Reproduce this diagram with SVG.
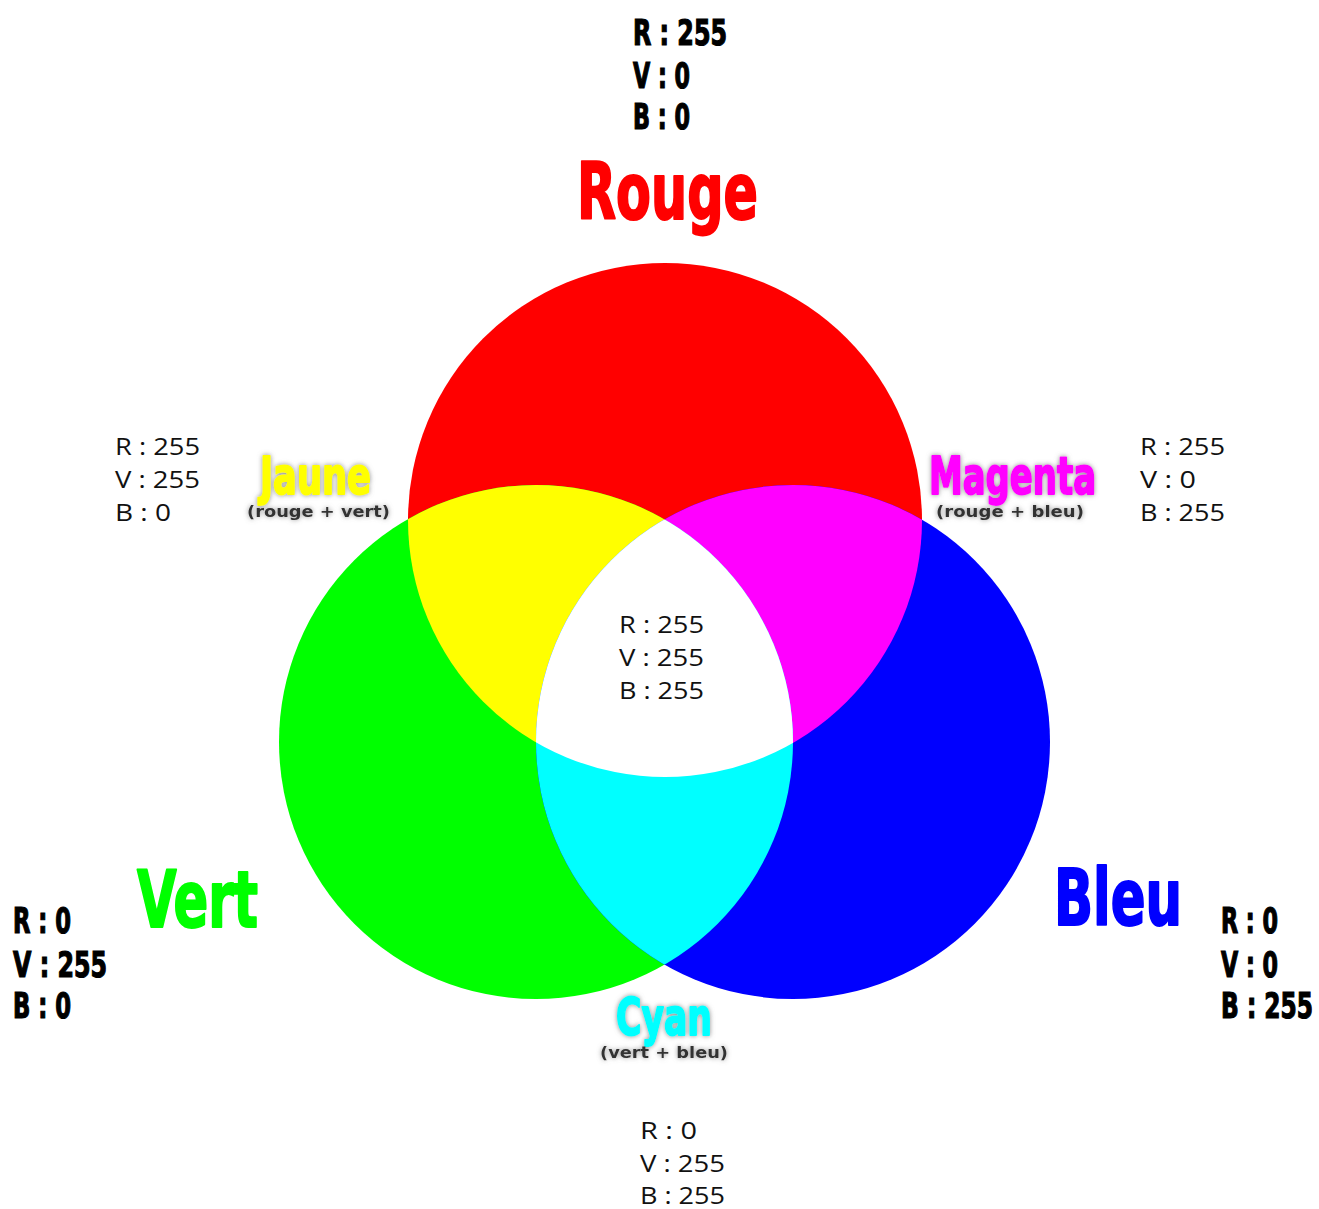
<svg xmlns="http://www.w3.org/2000/svg" width="1319" height="1209" viewBox="0 0 1319 1209">
<style>
.big{font-family:"Liberation Sans Narrow","DejaVu Sans Condensed","Liberation Sans",sans-serif;font-weight:bold;stroke-width:2;stroke-linejoin:round}
.blk{font-family:"Liberation Sans Narrow","DejaVu Sans Condensed","Liberation Sans",sans-serif;font-weight:bold;font-size:35px;fill:#000;stroke:#000;stroke-width:1.2}
.reg{font-family:"Open Sans","Noto Sans","Liberation Sans",sans-serif;font-size:23px;fill:#111}
.sub{font-family:"DejaVu Sans","Liberation Sans",sans-serif;font-weight:bold;font-size:16px;fill:#333}
</style>
<defs>
<circle id="cR" cx="665" cy="520" r="257"/>
<circle id="cG" cx="536" cy="742" r="257"/>
<circle id="cB" cx="793" cy="742" r="257"/>
<clipPath id="clipR"><use href="#cR"/></clipPath>
<clipPath id="clipG"><use href="#cG"/></clipPath>
<filter id="glow" x="-20%" y="-40%" width="140%" height="180%">
<feGaussianBlur in="SourceAlpha" stdDeviation="2.5" result="b"/>
<feFlood flood-color="#777" flood-opacity="0.8"/>
<feComposite operator="in" in2="b" result="s"/>
<feMerge><feMergeNode in="s"/><feMergeNode in="SourceGraphic"/></feMerge>
</filter>
</defs>
<rect width="1319" height="1209" fill="#fff"/>
<g id="circles">
<g id="rouge-circle"><use href="#cR" fill="#ff0000"/></g>
<g id="vert-circle"><use href="#cG" fill="#00ff00"/></g>
<g id="bleu-circle"><use href="#cB" fill="#0000ff"/></g>
<g id="jaune-zone" clip-path="url(#clipR)"><use href="#cG" fill="#ffff00"/></g>
<g id="magenta-zone" clip-path="url(#clipR)"><use href="#cB" fill="#ff00ff"/></g>
<g id="cyan-zone" clip-path="url(#clipG)"><use href="#cB" fill="#00ffff"/></g>
<g id="blanc-zone" clip-path="url(#clipR)"><g clip-path="url(#clipG)"><use href="#cB" fill="#ffffff"/></g></g>
</g>
<g id="connectors"/>
<g id="rouge">
<text class="blk" x="633" y="45" textLength="94" lengthAdjust="spacingAndGlyphs">R : 255</text>
<text class="blk" x="633" y="88" textLength="57" lengthAdjust="spacingAndGlyphs">V : 0</text>
<text class="blk" x="633" y="129" textLength="57" lengthAdjust="spacingAndGlyphs">B : 0</text>
<text class="big" x="577" y="219" font-size="78" fill="#ff0000" stroke="#ff0000" textLength="181" lengthAdjust="spacingAndGlyphs">Rouge</text>
</g>
<g id="vert">
<text class="big" x="137" y="927" font-size="78" fill="#00ff00" stroke="#00ff00" textLength="121" lengthAdjust="spacingAndGlyphs">Vert</text>
<text class="blk" x="13" y="933" textLength="58" lengthAdjust="spacingAndGlyphs">R : 0</text>
<text class="blk" x="13" y="977" textLength="94" lengthAdjust="spacingAndGlyphs">V : 255</text>
<text class="blk" x="13" y="1018" textLength="58" lengthAdjust="spacingAndGlyphs">B : 0</text>
</g>
<g id="bleu">
<text class="big" x="1054" y="925" font-size="78" fill="#0000ff" stroke="#0000ff" textLength="128" lengthAdjust="spacingAndGlyphs">Bleu</text>
<text class="blk" x="1221" y="933" textLength="57" lengthAdjust="spacingAndGlyphs">R : 0</text>
<text class="blk" x="1221" y="977" textLength="57" lengthAdjust="spacingAndGlyphs">V : 0</text>
<text class="blk" x="1221" y="1018" textLength="92" lengthAdjust="spacingAndGlyphs">B : 255</text>
</g>
<g id="jaune">
<text class="reg" x="115" y="455" textLength="85" lengthAdjust="spacingAndGlyphs">R : 255</text>
<text class="reg" x="115" y="488" textLength="85" lengthAdjust="spacingAndGlyphs">V : 255</text>
<text class="reg" x="115" y="521" textLength="56" lengthAdjust="spacingAndGlyphs">B : 0</text>
<g filter="url(#glow)">
<text class="big" x="260" y="494" font-size="52" fill="#ffff00" stroke="#ffff00" stroke-width="1.5" textLength="111" lengthAdjust="spacingAndGlyphs">Jaune</text>
<text class="sub" x="247" y="517" textLength="143" lengthAdjust="spacingAndGlyphs">(rouge + vert)</text>
</g>
</g>
<g id="magenta">
<g filter="url(#glow)">
<text class="big" x="929" y="494" font-size="52" fill="#ff00ff" stroke="#ff00ff" stroke-width="1.5" textLength="167" lengthAdjust="spacingAndGlyphs">Magenta</text>
<text class="sub" x="936" y="517" textLength="148" lengthAdjust="spacingAndGlyphs">(rouge + bleu)</text>
</g>
<text class="reg" x="1140" y="455" textLength="85" lengthAdjust="spacingAndGlyphs">R : 255</text>
<text class="reg" x="1140" y="488" textLength="56" lengthAdjust="spacingAndGlyphs">V : 0</text>
<text class="reg" x="1140" y="521" textLength="85" lengthAdjust="spacingAndGlyphs">B : 255</text>
</g>
<g id="blanc">
<text class="reg" x="619" y="633" textLength="85" lengthAdjust="spacingAndGlyphs">R : 255</text>
<text class="reg" x="619" y="666" textLength="85" lengthAdjust="spacingAndGlyphs">V : 255</text>
<text class="reg" x="619" y="699" textLength="85" lengthAdjust="spacingAndGlyphs">B : 255</text>
</g>
<g id="cyan">
<g filter="url(#glow)">
<text class="big" x="616" y="1035" font-size="52" fill="#00ffff" stroke="#00ffff" stroke-width="1.5" textLength="96" lengthAdjust="spacingAndGlyphs">Cyan</text>
<text class="sub" x="600" y="1058" textLength="128" lengthAdjust="spacingAndGlyphs">(vert + bleu)</text>
</g>
<text class="reg" x="640" y="1139" textLength="57" lengthAdjust="spacingAndGlyphs">R : 0</text>
<text class="reg" x="640" y="1172" textLength="85" lengthAdjust="spacingAndGlyphs">V : 255</text>
<text class="reg" x="640" y="1204" textLength="85" lengthAdjust="spacingAndGlyphs">B : 255</text>
</g>
</svg>
